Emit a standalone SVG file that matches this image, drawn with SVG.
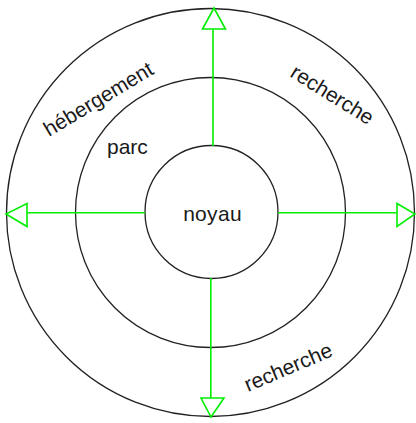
<svg xmlns="http://www.w3.org/2000/svg" width="416" height="423" viewBox="0 0 416 423">
<style>
.ring{fill:none;stroke:#222;stroke-width:1.3}
.arr{fill:none;stroke:#00ee00;stroke-width:1.6}
.lbl{font-family:"Liberation Sans",Arial,sans-serif;font-size:21px;fill:#1a1a1a}
</style>
<rect width="416" height="423" fill="#fff"/>
<g id="outer"><circle class="ring" cx="210.5" cy="212.5" r="204"/></g>
<g id="middle"><circle class="ring" cx="210.5" cy="212.5" r="135"/></g>
<g id="noyau"><circle class="ring" cx="211.5" cy="212" r="66.5"/><text class="lbl" x="212.5" y="221" text-anchor="middle" letter-spacing="0.3">noyau</text></g>
<g id="labels">
<text id="parc" class="lbl" x="107" y="154">parc</text>
<text id="hebergement" class="lbl" transform="translate(49,137) rotate(-31)">hébergement</text>
<text id="recherche1" class="lbl" transform="translate(289,76) rotate(32)">recherche</text>
<text id="recherche2" class="lbl" transform="translate(248,392) rotate(-23)">recherche</text>
</g>
<g id="connectors">
<line class="arr" x1="213" y1="146" x2="213" y2="29"/>
<polygon class="arr" points="202.5,29 225.5,29 214,8"/>
<line class="arr" x1="145" y1="212.7" x2="27" y2="212.7"/>
<polygon class="arr" points="27,203.5 27,226.5 6,214"/>
<line class="arr" x1="278" y1="212.7" x2="397" y2="212.7"/>
<polygon class="arr" points="397,203.5 397,226.5 415,214"/>
<line class="arr" x1="210.8" y1="278" x2="210.8" y2="398"/>
<polygon class="arr" points="201,398 224,398 211,417"/>
</g>
</svg>
